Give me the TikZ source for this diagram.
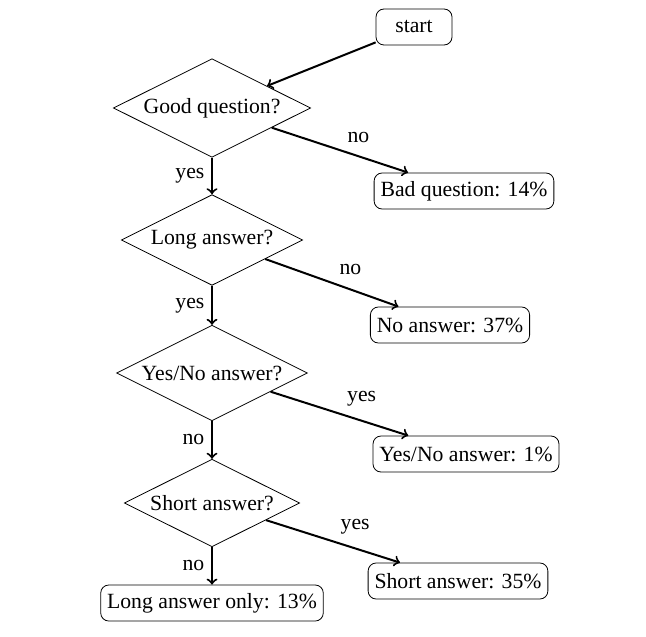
\documentclass[tikz,border=0pt]{standalone}
\usepackage{fontspec}
\setmainfont{Liberation Serif}
\usetikzlibrary{shapes.geometric}

\begin{document}
\begin{tikzpicture}[x=0.5pt, y=-0.5pt,
    every node/.style={font=\fontsize{10.85}{13}\selectfont},
    decision/.style={diamond, draw, aspect=2, inner sep=1.75pt},
    outcome/.style={draw, rounded corners=4pt, inner xsep=3.2pt, minimum height=18pt},
    flow/.style={->, line width=1pt}]
        \useasboundingbox (0,0) rectangle (646,636);
        \node[outcome, minimum width=38pt] (start) at (414,27) {start};
        \node[decision] (goodq) at (212,108) {Good question?};
        \node[outcome] (badq) at (464,191) {Bad question: 14\%};
        \node[decision] (longq) at (212,240) {Long answer?};
        \node[outcome] (noans) at (450,325) {No answer: 37\%};
        \node[decision] (yesnoq) at (212,373) {Yes/No answer?};
        \node[outcome] (yesnoans) at (466,454) {Yes/No answer: 1\%};
        \node[decision] (shortq) at (212,503) {Short answer?};
        \node[outcome] (shortans) at (458,581) {Short answer: 35\%};
        \node[outcome] (longonly) at (212,603) {Long answer only: 13\%};
        \draw[flow] (start) -- (goodq);
        \draw[flow] (goodq) -- node[midway, above right] {no} (badq);
        \draw[flow] (goodq) -- node[midway, left] {yes} (longq);
        \draw[flow] (longq) -- node[midway, above right] {no} (noans);
        \draw[flow] (longq) -- node[midway, left] {yes} (yesnoq);
        \draw[flow] (yesnoq) -- node[midway, above right] {yes} (yesnoans);
        \draw[flow] (yesnoq) -- node[midway, left] {no} (shortq);
        \draw[flow] (shortq) -- node[midway, above right] {yes} (shortans);
        \draw[flow] (shortq) -- node[midway, left] {no} (longonly);
      \end{tikzpicture}
\end{document}
